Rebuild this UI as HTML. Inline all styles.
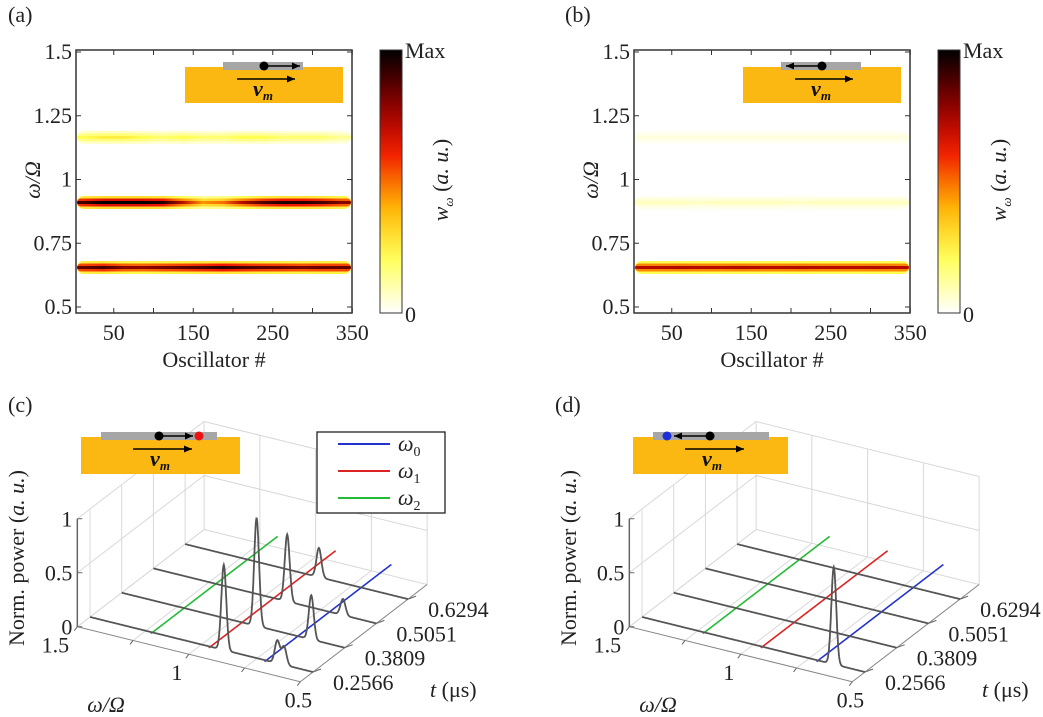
<!DOCTYPE html>
<html><head><meta charset="utf-8"><style>
html,body{margin:0;padding:0;background:#fff}
svg, svg text{font-family:"Liberation Serif","DejaVu Serif","Times New Roman",serif}
</style></head><body>
<svg id="fig" width="1043" height="712" viewBox="0 0 1043 712" xmlns="http://www.w3.org/2000/svg">
<defs id="defs"></defs>
</svg>
<script>
// ---------- data ----------
const bandFreqs = [0.655, 0.91, 1.165];
const oscCenters = [12,37,62,87,112,137,162,187,212,237,262,287,312,337];
const aBand066 = [0.85,0.9,0.8,0.78,0.82,0.86,0.9,0.95,0.9,0.86,0.85,0.82,0.85,0.85];
const aBand091 = [0.9,1,1,1,0.95,0.7,0.45,0.5,0.72,0.88,0.95,0.95,0.9,0.8];
const aBand117 = [0.22,0.26,0.26,0.22,0.18,0.22,0.18,0.18,0.22,0.22,0.18,0.18,0.18,0.13];
const bBand066 = [0.72,0.72,0.73,0.72,0.72,0.73,0.72,0.72,0.73,0.72,0.72,0.72,0.73,0.72];
const bBand091 = [0.08,0.08,0.08,0.07,0.08,0.08,0.08,0.08,0.07,0.08,0.08,0.08,0.08,0.08];
const bBand117 = [0.04,0.04,0.04,0.04,0.04,0.04,0.04,0.04,0.04,0.04,0.04,0.04,0.04,0.04];
const yTicks = [0.5,0.75,1,1.25,1.5];
const yTickLabels = ['0.5','0.75','1','1.25','1.5'];
const xTicks = [50,150,250,350];
const tTicks = ['0.2566','0.3809','0.5051','0.6294'];
const wTicks3d = [1.5,1,0.5];
const zTicks3d = [0,0.5,1];
const cPeakOmega = [[0.90,0.66,0.63],[0.895,0.65],[0.90,0.65],[0.90]];
const cPeakHeight = [[0.79,0.21,0.17],[1.0,0.41],[0.62,0.15],[0.27]];
const dPeakOmega = [[0.64],[],[],[]];
const dPeakHeight = [[0.9],[],[],[]];
const modeOmega = [0.71,0.96,1.22];
const modeColors = ['#2233cc','#dd2222','#22bb33'];
const modeLabels = ['0','1','2'];

const NS='http://www.w3.org/2000/svg';
const svg=document.getElementById('fig');
const defs=document.getElementById('defs');
function el(tag,attrs,parent){const e=document.createElementNS(NS,tag);for(const k in attrs)e.setAttribute(k,attrs[k]);(parent||svg).appendChild(e);return e;}
function txt(s,x,y,size,parent,anchor,extra){const t=el('text',Object.assign({x:x,y:y,'font-size':size,'text-anchor':anchor||'middle',fill:'#222'},extra||{}),parent);t.textContent=s;return t;}

function cmap(v){
  v=Math.max(0,Math.min(1,v));
  const st=[[0,[255,255,255]],[0.22,[255,255,80]],[0.42,[255,170,0]],[0.62,[240,20,0]],[0.82,[120,0,0]],[1,[0,0,0]]];
  for(let i=1;i<st.length;i++){if(v<=st[i][0]){const a=st[i-1],b=st[i];const f=(v-a[0])/(b[0]-a[0]);const c=a[1].map((x,j)=>Math.round(x+(b[1][j]-x)*f));return 'rgb('+c.join(',')+')';}}
  return 'rgb(0,0,0)';
}

let gid=0;
function heatPanel(ox,name,bands,dirRight){
  const g=el('g',{});
  
  
  const L=ox+76,R=ox+352,T=50,B=313;
  const xs=n=>ox+74+n*0.795;
  const ys=w=>307-(w-0.5)*255;
  el('rect',{x:L,y:T,width:R-L,height:B-T,fill:'#fff'},g);
  const layers=[[13,0.3],[8,0.65],[3,1]];
  bands.forEach((arr,bi)=>{
    const yc=ys(bandFreqs[bi]);
    layers.forEach(([h,f])=>{
      const id='g'+(gid++);
      const lg=el('linearGradient',{id:id,x1:L,x2:R,y1:0,y2:0,gradientUnits:'userSpaceOnUse'},defs);
      oscCenters.forEach((n,i)=>{el('stop',{offset:((xs(n)-L)/(R-L)).toFixed(4),'stop-color':cmap(arr[i]*f)},lg);});
      const r=el('rect',{x:L+1,y:yc-h/2,width:R-L-2,height:h,fill:'url(#'+id+')',rx:h/2},g);
      
      
    });
  });
  el('rect',{x:L,y:T,width:R-L,height:B-T,fill:'none',stroke:'#333','stroke-width':1.5},g);
  yTicks.forEach((v,i)=>{const y=ys(v);el('line',{x1:L,x2:L+5,y1:y,y2:y,stroke:'#333'},g);el('line',{x1:R,x2:R-5,y1:y,y2:y,stroke:'#333'},g);txt(yTickLabels[i],L-4,y+7,22,g,'end');});
  [50,100,150,200,250,300,350].forEach(v=>{const x=xs(v);el('line',{x1:x,x2:x,y1:B,y2:B-5,stroke:'#333'},g);el('line',{x1:x,x2:x,y1:T,y2:T+5,stroke:'#333'},g);});
  xTicks.forEach(v=>txt(String(v),xs(v),340,22,g));
  txt('Oscillator #',ox+214,367,22,g);
  txt('ω/Ω',ox+40,180,22,g,'middle',{transform:'rotate(-90 '+(ox+40)+' 180)','font-style':'italic'});
  const cid='cb'+(gid++);
  const cg=el('linearGradient',{id:cid,x1:0,x2:0,y1:1,y2:0},defs);
  for(let i=0;i<=10;i++)el('stop',{offset:i/10,'stop-color':cmap(i/10)},cg);
  const cb=el('rect',{x:ox+380,y:T,width:22,height:B-T,fill:'url(#'+cid+')',stroke:'#333','stroke-width':1},g);
  
  
  txt('Max',ox+405,58,22,g,'start');
  txt('0',ox+405,322,22,g,'start');
  const cl=el('text',{x:ox+448,y:180,'font-size':22,'text-anchor':'middle',fill:'#222',transform:'rotate(-90 '+(ox+448)+' 180)'},g);
  cl.innerHTML='<tspan font-style="italic">w</tspan><tspan font-size="13" dy="5" font-style="italic">ω</tspan><tspan dy="-5"> (</tspan><tspan font-style="italic">a. u.</tspan>)';
  inset(ox+185,67,158,36,dirRight,null,g);
}

function arrow(x1,y,x2,g){el('line',{x1:x1,y1:y,x2:x2,y2:y,stroke:'#000','stroke-width':1.5},g);const d=x2>x1?1:-1;el('path',{d:`M${x2} ${y} L${x2-8*d} ${y-3.5} L${x2-8*d} ${y+3.5}Z`,fill:'#000'},g);}
function inset(x,y,w,h,dirRight,dotColor,parent){
  const g=el('g',{},parent);
  
  
  el('rect',{x:x,y:y,width:w,height:h,fill:'#fbb812'},g);
  const bx=x+(dotColor?20:38),bw=dotColor?116:80;
  el('rect',{x:bx,y:y-5,width:bw,height:8,fill:'#a6a6a6'},g);
  if(dirRight){
    const dx=bx+(dotColor?58:41);
    arrow(dx,y-1,dx+(dotColor?34:36),g);
    el('circle',{cx:dx,cy:y-1,r:4.5,fill:'#000'},g);
    if(dotColor)el('circle',{cx:dx+40,cy:y-1,r:4.5,fill:dotColor},g);
  }else{
    const dx=bx+(dotColor?57:41);
    arrow(dx,y-1,dx-36,g);
    el('circle',{cx:dx,cy:y-1,r:4.5,fill:'#000'},g);
    if(dotColor)el('circle',{cx:dx-43,cy:y-1,r:4.5,fill:dotColor},g);
  }
  arrow(x+52,y+12,x+(dotColor?111:110),g);
  const t=el('text',{x:x+(dotColor?79:78),y:y+29,'font-size':22,'text-anchor':'middle','font-weight':'bold','font-style':'italic',fill:'#111'},g);
  t.innerHTML='v<tspan font-size="13" dy="4">m</tspan>';
}

function panel3d(ox,name,peakW,peakH,legend,dirRight,dotColor){
  const g=el('g',{});
  
  
  const P=(w,ti,z)=>[ox+90+31.7*ti+223*(1.5-w),617-24.3*ti+55*(1.5-w)-108*z];
  const t0=-0.4,t1=3.6;
  const line=(a,b,st,sw)=>el('line',{x1:a[0],y1:a[1],x2:b[0],y2:b[1],stroke:st,'stroke-width':sw||1},g);
  const grid='#d8d8d8';
  for(let ti=0;ti<=3;ti++){line(P(1.5,ti,0),P(1.5,ti,1),grid);}
  [0,0.5,1].forEach(z=>{line(P(1.5,t0,z),P(1.5,t1,z),grid);line(P(1.5,t1,z),P(0.5,t1,z),grid);});
  [1.5,1.25,1,0.75,0.5].forEach(w=>{line(P(w,t1,0),P(w,t1,1),grid);line(P(w,t0,0),P(w,t1,0),grid);});
  line(P(1.5,t0,0),P(0.5,t0,0),'#888');
  line(P(0.5,t0,0),P(0.5,t1,0),'#888');
  line(P(1.5,t0,0),P(1.5,t0,1),'#666',1.5);
  zTicks3d.forEach(z=>{const p=P(1.5,t0,z);line(p,[p[0]+5,p[1]],'#666');txt(String(z),p[0]-5,p[1]+8,22,g,'end');});
  [1.5,1.25,1,0.75,0.5].forEach(w=>{const p=P(w,t0,0);line(p,[p[0]-3,p[1]+4],'#666');});
  wTicks3d.forEach(w=>{const p=P(w,t0,0);txt(String(w),p[0]-22+(1.5-w)*20,p[1]+26,22,g,'middle');});
  tTicks.forEach((s,i)=>{const p=P(0.5,i,0);line(p,[p[0]+8,p[1]-3],'#666');txt(s,p[0]+20,p[1]+18,22,g,'start');});
  const tl=el('text',{x:ox+430,y:697,'font-size':22,fill:'#222'},g);tl.innerHTML='<tspan font-style="italic">t</tspan> (μs)';
  txt('ω/Ω',ox+106,712,22,g,'middle',{'font-style':'italic'});
  const zl=el('text',{x:ox+24,y:558,'font-size':22,'text-anchor':'middle',fill:'#222',transform:`rotate(-90 ${ox+24} 558)`},g);
  zl.innerHTML='Norm. power (<tspan font-style="italic">a. u.</tspan>)';
  modeOmega.forEach((w,i)=>{const l=line(P(w,-0.05,0),P(w,3.95,0),modeColors[i],1.6);});
  for(let k=3;k>=0;k--){
    let d='';
    for(let w=1.5;w>=0.4999;w-=0.002){
      let z=0;peakW[k].forEach((w0,j)=>{z+=peakH[k][j]*Math.exp(-0.5*Math.pow((w-w0)/0.011,2));});
      const p=P(w,k,z);d+=(d?'L':'M')+p[0].toFixed(1)+' '+p[1].toFixed(1);
    }
    const pth=el('path',{d:d,fill:'none',stroke:'#555','stroke-width':1.8},g);
    
    
  }
  if(legend){
    const lg=el('g',{},g);
    
    
    el('rect',{x:ox+317,y:432,width:128,height:81,fill:'#fff',stroke:'#222','stroke-width':1.3},lg);
    modeLabels.forEach((m,i)=>{const y=444+i*27;el('line',{x1:ox+338,x2:ox+390,y1:y,y2:y,stroke:modeColors[i],'stroke-width':2},lg);
      const t=el('text',{x:ox+398,y:y+7,'font-size':22,fill:'#222','font-style':'italic'},lg);t.innerHTML='ω<tspan font-size="14" dy="5" font-style="normal">'+m+'</tspan>';});
  }
  inset(ox+81,437,dotColor==='#1d2fd6'?155:159,37,dirRight,dotColor,g);
}

heatPanel(0,'panel-a',[aBand066,aBand091,aBand117],true);
heatPanel(558,'panel-b',[bBand066,bBand091,bBand117],false);
panel3d(0,'panel-c',cPeakOmega,cPeakHeight,true,true,'#ee1111');
panel3d(552,'panel-d',dPeakOmega,dPeakHeight,false,false,'#1d2fd6');
[['(a)',8,22],['(b)',565,22],['(c)',8,412],['(d)',555,412]].forEach(a=>{const t=txt(a[0],a[1],a[2],22,svg,'start');});
</script>
</body></html>
